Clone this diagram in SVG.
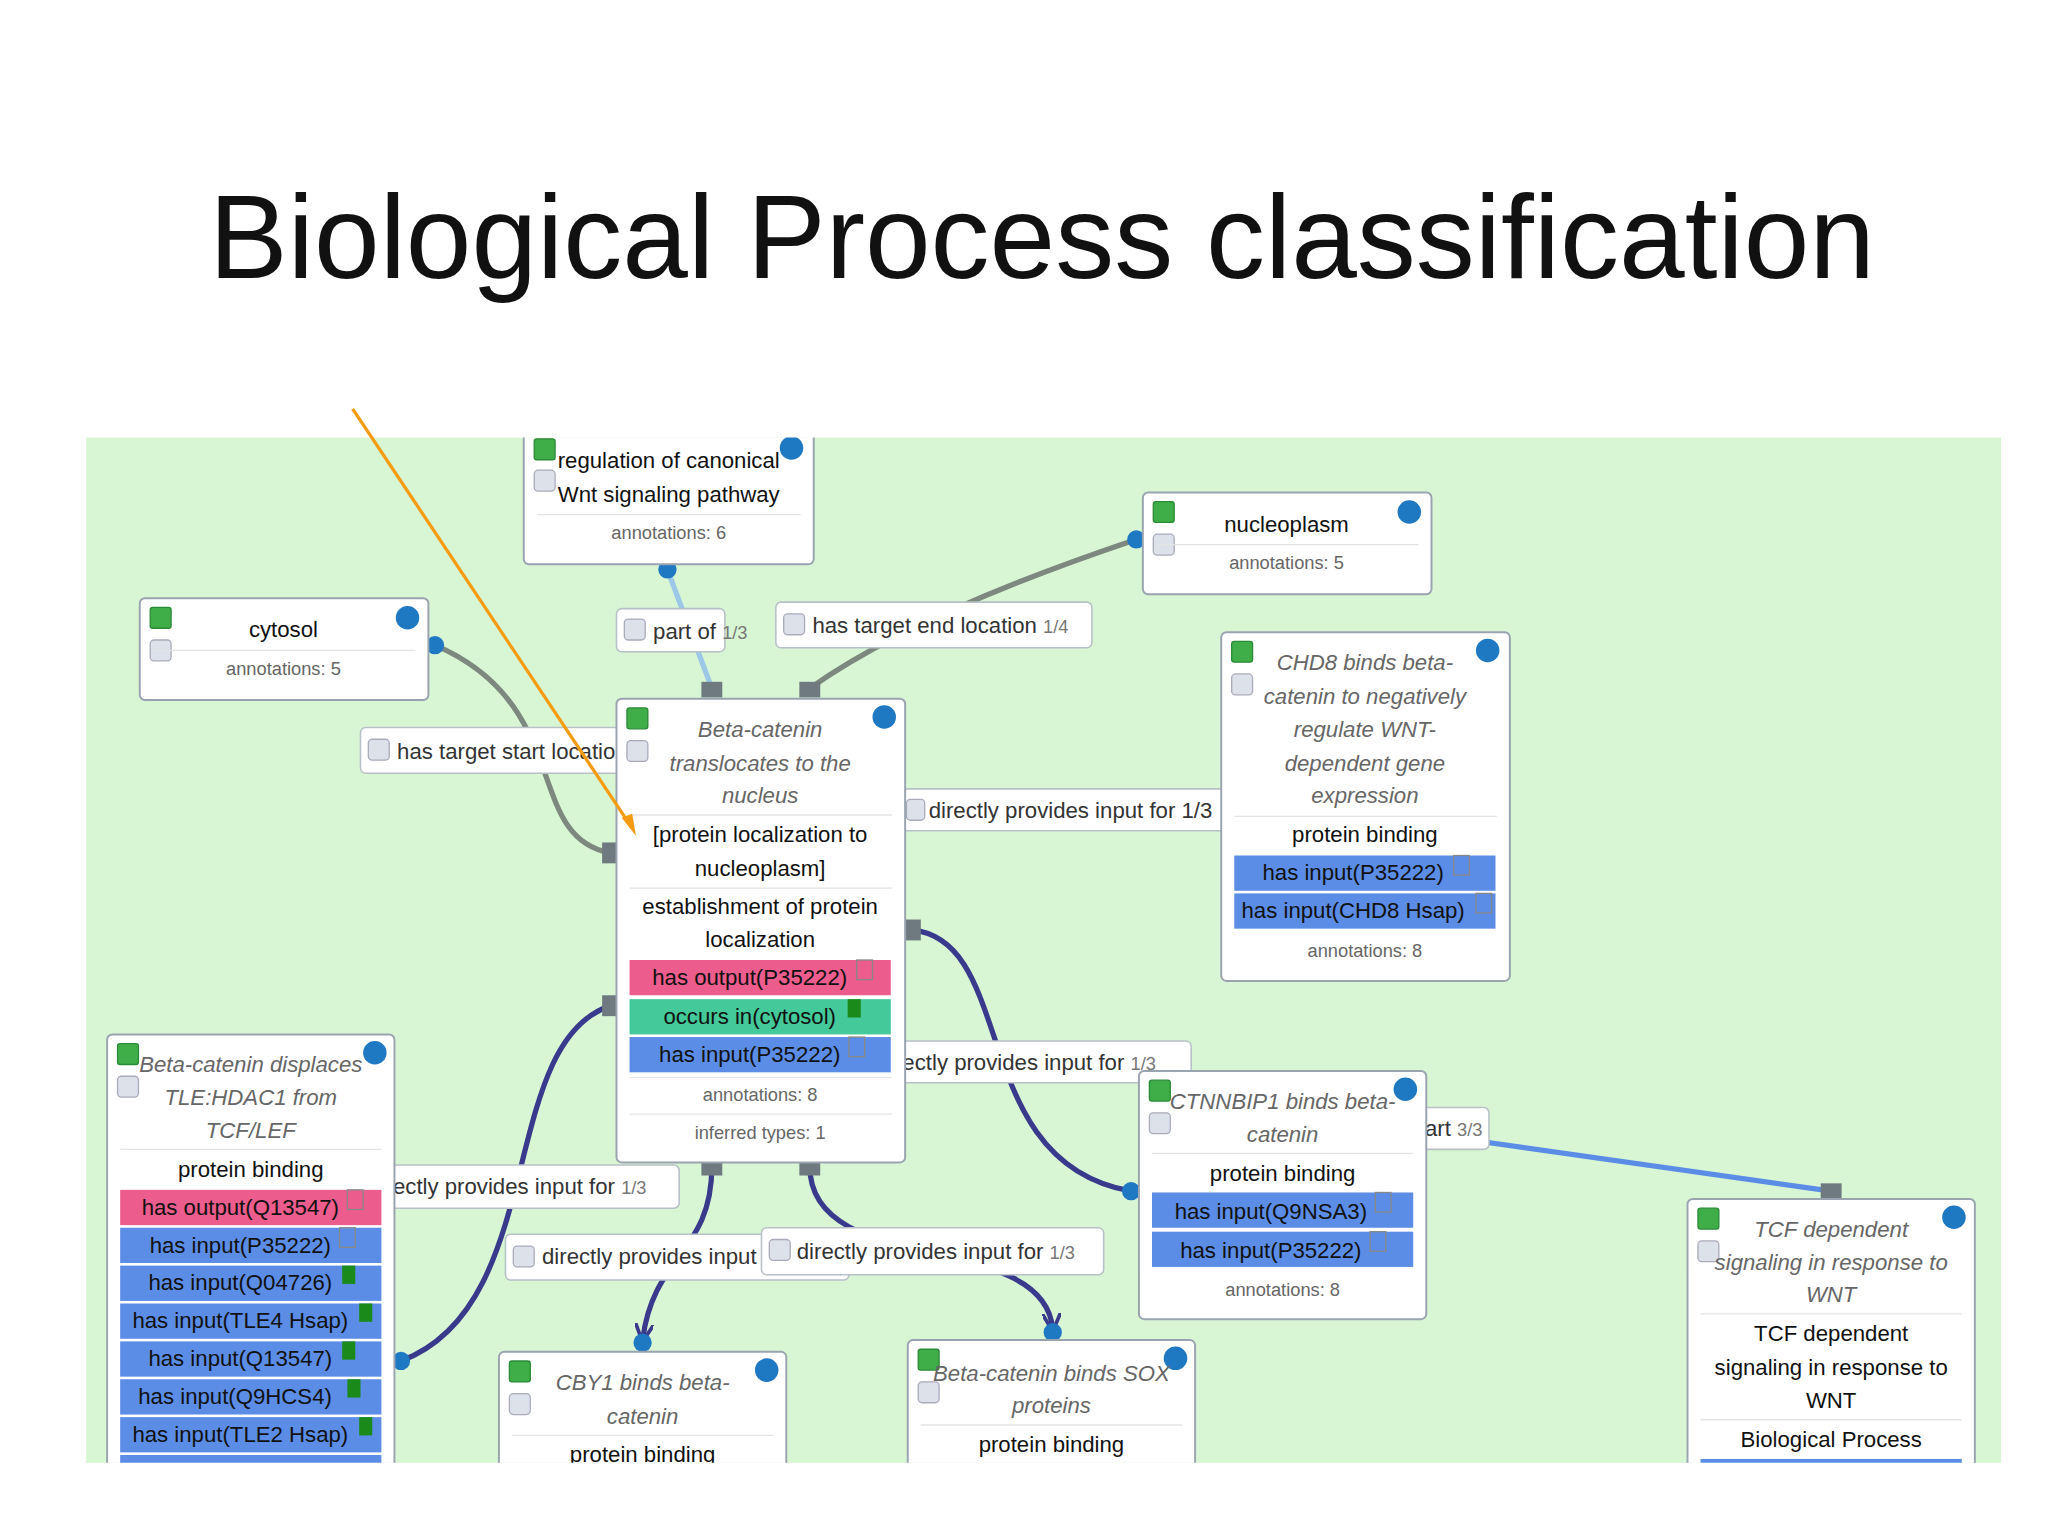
<svg xmlns="http://www.w3.org/2000/svg" width="2048" height="1536" viewBox="0 0 2048 1536">
<defs>
<style>
.t{font-family:"Liberation Sans",Arial,sans-serif;font-size:17px;fill:#111;text-anchor:middle}
.i{font-style:italic;fill:#666}
.a{font-size:14px;fill:#666}
.l{font-family:"Liberation Sans",Arial,sans-serif;font-size:17px;fill:#333}
.s{font-size:14px;fill:#777}
.n{fill:#fff;stroke:#9aa3b0;stroke-width:1.5}
.lb{fill:#fff;stroke:#b8c0c8;stroke-width:1.2}
.sep{stroke:#e4e4e4;stroke-width:1}
.g{fill:#3fae49;stroke:#2b8a35}
.c{fill:#dde1ea;stroke:#aab}
.d{fill:#1e78c2}
.pk{fill:#ec5c8c}.tl{fill:#43c99a}.bl{fill:#5b8de6}
.ck{fill:none;stroke:#888;stroke-width:1}
</style>
<marker id="ar" viewBox="0 0 10 10" refX="9" refY="5" markerWidth="14" markerHeight="14" markerUnits="userSpaceOnUse" orient="auto"><path d="M0,0 L10,5 L0,10" fill="none" stroke="#3a3a8c" stroke-width="2"/></marker>
<clipPath id="cp"><rect x="66" y="335" width="1466" height="785"/></clipPath>
</defs>
<rect width="2048" height="1536" fill="#fff"/>
<text x="1042" y="278" font-family="Liberation Sans,Arial,sans-serif" font-size="118" text-anchor="middle" fill="#111">Biological Process classification</text>
<g transform="scale(1.30612)">
<rect x="66" y="335" width="1466" height="785" fill="#d9f6d4"/>
<g clip-path="url(#cp)">
<g id="connectors" fill="none">
<path d="M545,527 L511,436" stroke="#9cc8e6" stroke-width="4"/>
<path d="M620,527 Q700,470 870,413" stroke="#7d887e" stroke-width="4"/>
<path d="M467,653 C400,640 440,540 333,494" stroke="#7d887e" stroke-width="4"/>
<path d="M693,620 L935,620" stroke="#c5e0ef" stroke-width="4"/>
<path d="M698,712 C780,720 740,890 866,912" stroke="#3a3a8c" stroke-width="4"/>
<path d="M467,770 C380,800 420,1000 307,1042" stroke="#3a3a8c" stroke-width="4"/>
<path d="M545,893 C545,960 500,960 492,1026" stroke="#3a3a8c" stroke-width="4" marker-end="url(#ar)"/>
<path d="M620,893 C620,980 800,940 806,1018" stroke="#3a3a8c" stroke-width="4" marker-end="url(#ar)"/>
<path d="M1092,868 L1402,912" stroke="#5b8de6" stroke-width="4"/>
<g fill="#6f7a80"><rect x="537" y="522" width="16" height="12"/><rect x="612" y="522" width="16" height="12"/><rect x="461" y="645" width="12" height="16"/><rect x="693" y="704" width="12" height="16"/><rect x="461" y="762" width="12" height="16"/><rect x="537" y="888" width="16" height="12"/><rect x="612" y="888" width="16" height="12"/><rect x="1394" y="906" width="16" height="12"/></g>
<g fill="#1e78c2"><circle cx="511" cy="436" r="7"/><circle cx="870" cy="413" r="7"/><circle cx="333" cy="494" r="7"/><circle cx="866" cy="912" r="7"/><circle cx="307" cy="1042" r="7"/><circle cx="492" cy="1028" r="7"/><circle cx="806" cy="1020" r="7"/></g>
</g>
<g id="edge-labels">
<rect class="lb" x="472" y="466" width="83" height="33" rx="4"/><rect class="c" x="478" y="474" width="16" height="16" rx="3"/><text class="l" x="500" y="489">part of <tspan class="s">1/3</tspan></text>
<rect class="lb" x="594" y="461" width="242" height="35" rx="4"/><rect class="c" x="600" y="470" width="16" height="16" rx="3"/><text class="l" x="622" y="485">has target end location <tspan class="s">1/4</tspan></text>
<rect class="lb" x="276" y="557" width="210" height="35" rx="4"/><rect class="c" x="282" y="566" width="16" height="16" rx="3"/><text class="l" x="304" y="581">has target start location</text>
<rect class="lb" x="690" y="604" width="250" height="32" rx="4"/><rect class="c" x="694" y="612" width="14" height="16" rx="3"/><text class="l" x="711" y="626">directly provides input for 1/3</text>
<rect class="lb" x="670" y="797" width="242" height="32" rx="4"/><text class="l" x="672" y="819">directly provides input for <tspan class="s">1/3</tspan></text>
<rect class="lb" x="280" y="892" width="240" height="33" rx="4"/><text class="l" x="282" y="914">directly provides input for <tspan class="s">1/3</tspan></text>
<rect class="lb" x="387" y="945" width="263" height="35" rx="4"/><rect class="c" x="393" y="954" width="16" height="16" rx="3"/><text class="l" x="415" y="968">directly provides input</text>
<rect class="lb" x="583" y="940" width="262" height="36" rx="4"/><rect class="c" x="589" y="949" width="16" height="16" rx="3"/><text class="l" x="610" y="964">directly provides input for <tspan class="s">1/3</tspan></text>
<rect class="lb" x="1060" y="848" width="80" height="32" rx="4"/><text class="l" x="1091" y="870">art <tspan class="s">3/3</tspan></text>
</g>
<g id="n-regulation"><rect class="n" x="401" y="320" width="222" height="112" rx="4"/><rect class="g" x="409" y="336" width="16" height="16" rx="2"/><rect class="c" x="409" y="360" width="16" height="16" rx="3"/><circle class="d" cx="606" cy="343" r="9"/>
<text class="t" x="512" y="358">regulation of canonical</text><text class="t" x="512" y="384">Wnt signaling pathway</text><line class="sep" x1="411" y1="394" x2="613" y2="394"/><text class="t a" x="512" y="413">annotations: 6</text></g>
<g id="n-nucleoplasm"><rect class="n" x="875" y="377" width="221" height="78" rx="4"/><rect class="g" x="883" y="384" width="16" height="16" rx="2"/><rect class="c" x="883" y="409" width="16" height="16" rx="3"/><circle class="d" cx="1079" cy="392" r="9"/>
<text class="t" x="985" y="407">nucleoplasm</text><line class="sep" x1="885" y1="417" x2="1086" y2="417"/><text class="t a" x="985" y="436">annotations: 5</text></g>
<g id="n-cytosol"><rect class="n" x="107" y="458" width="221" height="78" rx="4"/><rect class="g" x="115" y="465" width="16" height="16" rx="2"/><rect class="c" x="115" y="490" width="16" height="16" rx="3"/><circle class="d" cx="312" cy="473" r="9"/>
<text class="t" x="217" y="488">cytosol</text><line class="sep" x1="117" y1="498" x2="318" y2="498"/><text class="t a" x="217" y="517">annotations: 5</text></g>
<g id="n-chd8"><rect class="n" x="935" y="484" width="221" height="267" rx="4"/><rect class="g" x="943" y="491" width="16" height="16" rx="2"/><rect class="c" x="943" y="516" width="16" height="16" rx="3"/><circle class="d" cx="1139" cy="498" r="9"/>
<text class="t i" x="1045" y="513">CHD8 binds beta-</text><text class="t i" x="1045" y="539">catenin to negatively</text><text class="t i" x="1045" y="564">regulate WNT-</text><text class="t i" x="1045" y="590">dependent gene</text><text class="t i" x="1045" y="615">expression</text>
<line class="sep" x1="945" y1="625" x2="1146" y2="625"/><text class="t" x="1045" y="645">protein binding</text>
<rect class="bl" x="945" y="655" width="200" height="27"/><text class="t" x="1036" y="674">has input(P35222)</text><rect class="ck" x="1113" y="655" width="12" height="15"/>
<rect class="bl" x="945" y="684" width="200" height="27"/><text class="t" x="1036" y="703">has input(CHD8 Hsap)</text><rect class="ck" x="1130" y="684" width="12" height="15"/>
<text class="t a" x="1045" y="733">annotations: 8</text></g>
<g id="n-center"><rect class="n" x="472" y="535" width="221" height="355" rx="4"/><rect class="g" x="480" y="542" width="16" height="16" rx="2"/><rect class="c" x="480" y="567" width="16" height="16" rx="3"/><circle class="d" cx="677" cy="549" r="9"/>
<text class="t i" x="582" y="564">Beta-catenin</text><text class="t i" x="582" y="590">translocates to the</text><text class="t i" x="582" y="615">nucleus</text>
<line class="sep" x1="482" y1="624" x2="683" y2="624"/><text class="t" x="582" y="645">[protein localization to</text><text class="t" x="582" y="671">nucleoplasm]</text>
<line class="sep" x1="482" y1="680" x2="683" y2="680"/><text class="t" x="582" y="700">establishment of protein</text><text class="t" x="582" y="725">localization</text>
<rect class="pk" x="482" y="735" width="200" height="27"/><text class="t" x="574" y="754">has output(P35222)</text><rect class="ck" x="656" y="735" width="12" height="15"/>
<rect class="tl" x="482" y="765" width="200" height="27"/><text class="t" x="574" y="784">occurs in(cytosol)</text><rect x="649" y="765" width="10" height="14" fill="#1a8a1a"/>
<rect class="bl" x="482" y="794" width="200" height="27"/><text class="t" x="574" y="813">has input(P35222)</text><rect class="ck" x="650" y="794" width="12" height="15"/>
<line class="sep" x1="482" y1="825" x2="683" y2="825"/><text class="t a" x="582" y="843">annotations: 8</text><line class="sep" x1="482" y1="853" x2="683" y2="853"/><text class="t a" x="582" y="872">inferred types: 1</text></g>
<g id="n-displaces"><rect class="n" x="82" y="792" width="220" height="360" rx="4"/><rect class="g" x="90" y="799" width="16" height="16" rx="2"/><rect class="c" x="90" y="824" width="16" height="16" rx="3"/><circle class="d" cx="287" cy="806" r="9"/>
<text class="t i" x="192" y="821">Beta-catenin displaces</text><text class="t i" x="192" y="846">TLE:HDAC1 from</text><text class="t i" x="192" y="871">TCF/LEF</text>
<line class="sep" x1="92" y1="880" x2="292" y2="880"/><text class="t" x="192" y="901">protein binding</text>
<rect class="pk" x="92" y="911" width="200" height="27"/><text class="t" x="184" y="930">has output(Q13547)</text><rect class="ck" x="266" y="911" width="12" height="15"/>
<g class="bl"><rect x="92" y="940" width="200" height="27"/><rect x="92" y="969" width="200" height="27"/><rect x="92" y="998" width="200" height="27"/><rect x="92" y="1027" width="200" height="27"/><rect x="92" y="1056" width="200" height="27"/><rect x="92" y="1085" width="200" height="27"/><rect x="92" y="1114" width="200" height="27"/></g>
<text class="t" x="184" y="959">has input(P35222)</text><text class="t" x="184" y="988">has input(Q04726)</text><text class="t" x="184" y="1017">has input(TLE4 Hsap)</text><text class="t" x="184" y="1046">has input(Q13547)</text><text class="t" x="180" y="1075">has input(Q9HCS4)</text><text class="t" x="184" y="1104">has input(TLE2 Hsap)</text>
<rect class="ck" x="260" y="940" width="12" height="15"/><g fill="#1a8a1a"><rect x="262" y="969" width="10" height="14"/><rect x="275" y="998" width="10" height="14"/><rect x="262" y="1027" width="10" height="14"/><rect x="266" y="1056" width="10" height="14"/><rect x="275" y="1085" width="10" height="14"/></g></g>
<g id="n-ctnnbip1"><rect class="n" x="872" y="820" width="220" height="190" rx="4"/><rect class="g" x="880" y="827" width="16" height="16" rx="2"/><rect class="c" x="880" y="852" width="16" height="16" rx="3"/><circle class="d" cx="1076" cy="834" r="9"/>
<text class="t i" x="982" y="849">CTNNBIP1 binds beta-</text><text class="t i" x="982" y="874">catenin</text><line class="sep" x1="882" y1="883" x2="1082" y2="883"/><text class="t" x="982" y="904">protein binding</text>
<rect class="bl" x="882" y="913" width="200" height="27"/><text class="t" x="973" y="933">has input(Q9NSA3)</text><rect class="ck" x="1053" y="913" width="12" height="15"/>
<rect class="bl" x="882" y="943" width="200" height="27"/><text class="t" x="973" y="963">has input(P35222)</text><rect class="ck" x="1049" y="943" width="12" height="15"/>
<text class="t a" x="982" y="992">annotations: 8</text></g>
<g id="n-tcf"><rect class="n" x="1292" y="918" width="220" height="260" rx="4"/><rect class="g" x="1300" y="925" width="16" height="16" rx="2"/><rect class="c" x="1300" y="950" width="16" height="16" rx="3"/><circle class="d" cx="1496" cy="932" r="9"/>
<text class="t i" x="1402" y="947">TCF dependent</text><text class="t i" x="1402" y="972">signaling in response to</text><text class="t i" x="1402" y="997">WNT</text><line class="sep" x1="1302" y1="1006" x2="1502" y2="1006"/>
<text class="t" x="1402" y="1027">TCF dependent</text><text class="t" x="1402" y="1053">signaling in response to</text><text class="t" x="1402" y="1078">WNT</text><line class="sep" x1="1302" y1="1087" x2="1502" y2="1087"/><text class="t" x="1402" y="1108">Biological Process</text>
<rect class="bl" x="1302" y="1117" width="200" height="27"/></g>
<g id="n-cby1"><rect class="n" x="382" y="1035" width="220" height="120" rx="4"/><rect class="g" x="390" y="1042" width="16" height="16" rx="2"/><rect class="c" x="390" y="1067" width="16" height="16" rx="3"/><circle class="d" cx="587" cy="1049" r="9"/>
<text class="t i" x="492" y="1064">CBY1 binds beta-</text><text class="t i" x="492" y="1090">catenin</text><line class="sep" x1="392" y1="1099" x2="592" y2="1099"/><text class="t" x="492" y="1119">protein binding</text></g>
<g id="n-sox"><rect class="n" x="695" y="1026" width="220" height="130" rx="4"/><rect class="g" x="703" y="1033" width="16" height="16" rx="2"/><rect class="c" x="703" y="1058" width="16" height="16" rx="3"/><circle class="d" cx="900" cy="1040" r="9"/>
<text class="t i" x="805" y="1057">Beta-catenin binds SOX</text><text class="t i" x="805" y="1082">proteins</text><line class="sep" x1="705" y1="1091" x2="905" y2="1091"/><text class="t" x="805" y="1112">protein binding</text></g>
</g>
<line x1="270" y1="313" x2="484" y2="634" stroke="#f39c12" stroke-width="2.5"/>
<path d="M476,626 L487,640 L484,623 Z" fill="#f39c12"/>
</g>
</svg>
